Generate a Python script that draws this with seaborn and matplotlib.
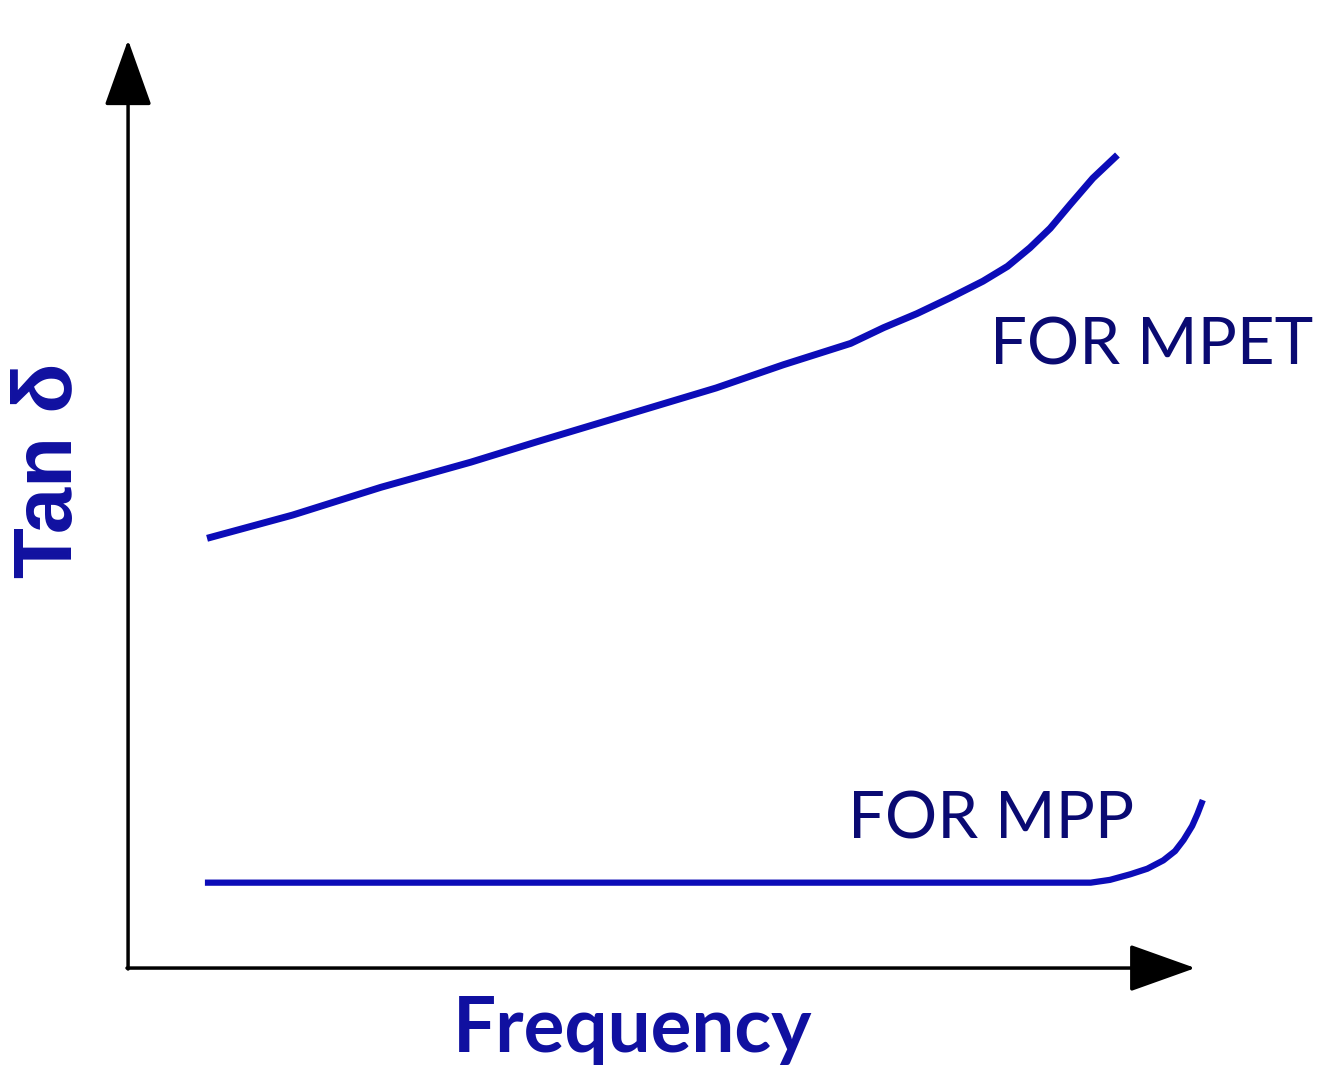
import matplotlib
matplotlib.use("Agg")
import matplotlib.pyplot as plt
import seaborn as sns
import pandas as pd

# ---- data (schematic units: frequency 0-100, tan delta 0-100) ----
mpet_freq = [7.4, 15.4, 23.7, 32.1, 38.3, 46.7, 55.1, 61.4, 67.7, 70.8, 73.9,
             77.0, 80.1, 82.4, 84.5, 86.4, 88.3, 90.4, 92.7]
mpet_tan = [46.3, 48.8, 51.8, 54.5, 56.7, 59.6, 62.5, 65.0, 67.3, 69.0, 70.5,
            72.2, 74.0, 75.6, 77.6, 79.7, 82.3, 85.1, 87.6]

mpp_freq = [7.2, 30.0, 60.0, 90.2, 92.0, 93.9, 95.5, 97.0, 98.1, 98.9, 99.7, 100.2, 100.7]
mpp_tan = [9.2, 9.2, 9.2, 9.2, 9.5, 10.1, 10.7, 11.6, 12.6, 13.8, 15.3, 16.6, 18.1]

x_label = "Frequency"
y_label = "Tan δ"
mpet_label = "FOR MPET"
mpp_label = "FOR MPP"

line_color = "#0c0cb8"
axis_text_color = "#1010a0"
curve_text_color = "#0a0a72"

sns.set_theme(style="white")
plt.rcParams["font.family"] = ["Liberation Sans", "DejaVu Sans"]

fig = plt.figure(figsize=(13.33, 10.72), dpi=100)
ax = fig.add_axes([0, 0, 1, 1])
ax.set_xlim(-12.0, 112.9)
ax.set_ylim(-11.2, 104.3)
ax.axis("off")

df_mpet = pd.DataFrame({"freq": mpet_freq, "tan": mpet_tan})
df_mpp = pd.DataFrame({"freq": mpp_freq, "tan": mpp_tan})
sns.lineplot(data=df_mpet, x="freq", y="tan", ax=ax, color=line_color,
             linewidth=5.0, estimator=None, sort=False)
sns.lineplot(data=df_mpp, x="freq", y="tan", ax=ax, color=line_color,
             linewidth=4.5, estimator=None, sort=False)
for ln in ax.get_lines():
    ln.set_solid_joinstyle("round")
    ln.set_solid_capstyle("butt")

# axes with arrows
arrow_style = "-|>,head_length=2.1,head_width=0.75"
ax.annotate("", xy=(0, 100), xytext=(0, -0.1),
            arrowprops=dict(arrowstyle=arrow_style, lw=2.5, color="black",
                            mutation_scale=20, shrinkA=0, shrinkB=0))
ax.annotate("", xy=(100, 0), xytext=(-0.1, 0),
            arrowprops=dict(arrowstyle=arrow_style, lw=2.5, color="black",
                            mutation_scale=20, shrinkA=0, shrinkB=0))

lab_font = ["Lato", "Liberation Sans", "DejaVu Sans"]
ax.text(80.8, 65.0, mpet_label, color=curve_text_color, fontsize=47, family=lab_font,
        fontweight="normal", ha="left", va="baseline")
ax.text(67.5, 14.0, mpp_label, color=curve_text_color, fontsize=47, family=lab_font,
        fontweight="normal", ha="left", va="baseline")

fig.text(633 / 1333, 1 - 1052 / 1072, x_label, color=axis_text_color, fontsize=55,
         family=lab_font, fontweight="bold", ha="center", va="baseline")
fig.text(50 / 1333, 1 - 470 / 1072, y_label, color=axis_text_color, fontsize=60,
         family=["Liberation Sans", "DejaVu Sans"],
         fontweight="bold", ha="center", va="center", rotation=90)

fig.savefig("out.png", dpi=100, facecolor="white")
